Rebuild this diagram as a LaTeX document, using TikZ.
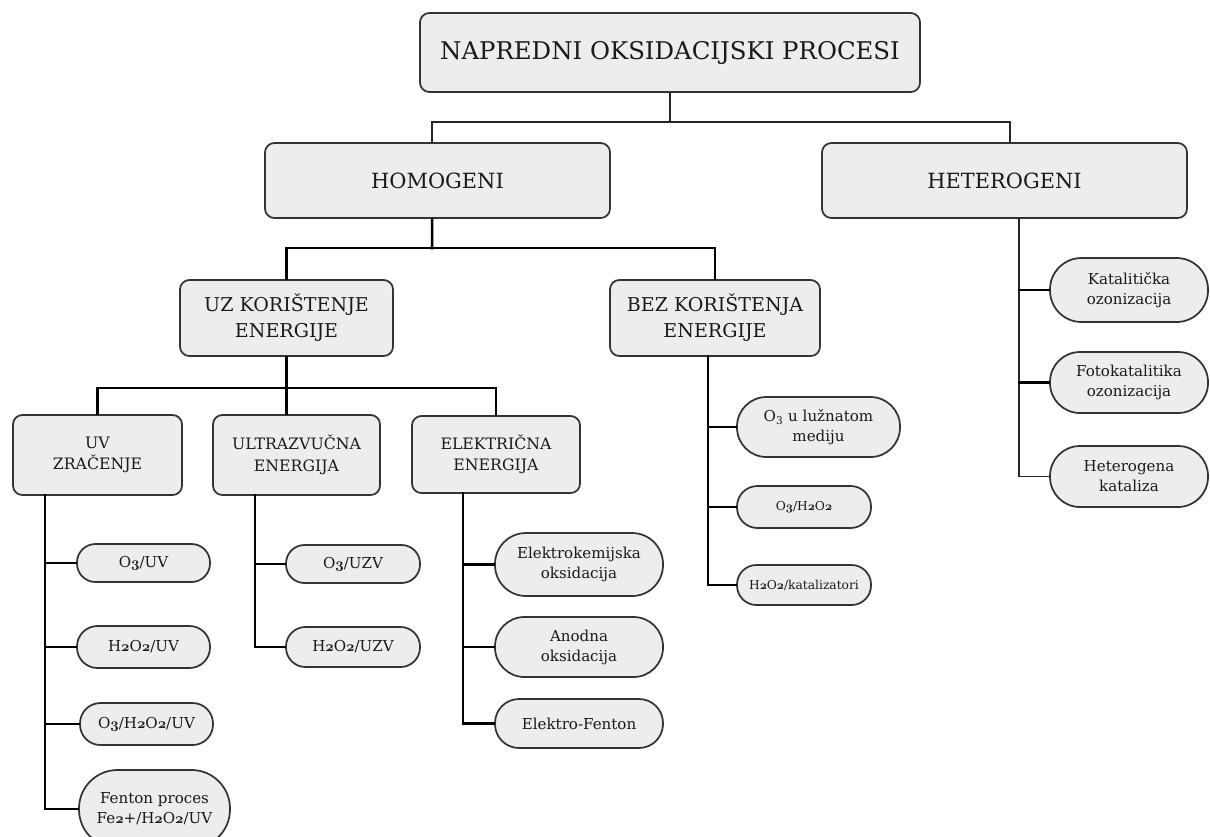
\documentclass[tikz,border=0pt]{standalone}
\usepackage{fontspec}
\setmainfont{DejaVu Serif}
\usetikzlibrary{calc}
\definecolor{boxfill}{HTML}{EBEDEF}
\definecolor{boxline}{HTML}{333333}
\definecolor{txt}{HTML}{1A1A1A}
\newcommand\os[1]{{\usefont{OML}{cmm}{b}{it}#1}}
\newcommand\bx[7]{%
  \pgfmathsetmacro\bxcx{(#2+#4)/2}%
  \pgfmathsetmacro\bxcy{(#3+#5)/2}%
  \pgfmathsetmacro\bxw{(#4-#2)*0.75}%
  \pgfmathsetmacro\bxh{(#5-#3)*0.75}%
  \pgfmathsetmacro\bxr{(#5-#3)*0.75/2-0.4}%
  \node[#6, minimum width=\bxw pt, minimum height=\bxh pt] (#1) at (\bxcx,\bxcy) {#7};}
\tikzset{
  base/.style={draw=boxline, line width=1.3pt, fill=boxfill, text=txt, align=center, inner sep=0pt},
  catbox/.style={base, rounded corners=7pt},
  pillbox/.style={base, rounded corners=\bxr pt},
  conn/.style={line width=1.9pt, draw=black, line cap=rect},
  thinconn/.style={line width=1.2pt, draw=black!85},
  ftitle/.style={font=\fontsize{18.3}{22}\selectfont},
  fbig/.style={font=\fontsize{15.7}{19}\selectfont},
  fmid/.style={font=\fontsize{14.3}{19.5}\selectfont},
  fsmall/.style={font=\fontsize{11.8}{16}\selectfont},
  fleaf/.style={font=\fontsize{11.3}{15}\selectfont},
  ftiny/.style={font=\fontsize{9.2}{11}\selectfont},
}
\begin{document}
\begin{tikzpicture}[x=0.75pt,y=-0.75pt]
\fill[white] (0,0) rectangle (1210,836);
\useasboundingbox (0,0) rectangle (1210,836);

% category boxes
\bx{top}{420}{13}{920}{92}{catbox,ftitle}{NAPREDNI OKSIDACIJSKI PROCESI}
\bx{homo}{265}{143}{610}{218}{catbox,fbig}{HOMOGENI}
\bx{hetero}{822}{143}{1187}{218}{catbox,fbig}{HETEROGENI}
\bx{uz}{180}{280}{393}{356}{catbox,fmid}{UZ KORIŠTENJE\\ENERGIJE}
\bx{bez}{610}{280}{820}{356}{catbox,fmid}{BEZ KORIŠTENJA\\ENERGIJE}
\bx{uv}{13}{415}{182}{495}{catbox,fsmall}{UV\\ZRAČENJE}
\bx{ultra}{213}{415}{380}{495}{catbox,fsmall}{ULTRAZVUČNA\\ENERGIJA}
\bx{el}{412}{416}{580}{493}{catbox,fsmall}{ELEKTRIČNA\\ENERGIJA}

% leaves
\bx{uvA}{77}{544}{210}{582}{pillbox,fleaf}{O\os{3}/UV}
\bx{uvB}{77}{626}{210}{668}{pillbox,fleaf}{H\os{2}O\os{2}/UV}
\bx{uvC}{80}{703}{213}{745}{pillbox,fleaf}{O\os{3}/H\os{2}O\os{2}/UV}
\bx{uvD}{79}{770}{230}{848}{pillbox,fleaf}{Fenton proces\\Fe\os{2}+/H\os{2}O\os{2}/UV}
\bx{ulA}{286}{545}{420}{583}{pillbox,fleaf}{O\os{3}/UZV}
\bx{ulB}{286}{627}{420}{667}{pillbox,fleaf}{H\os{2}O\os{2}/UZV}
\bx{elA}{495}{533}{663}{596}{pillbox,fleaf}{Elektrokemijska\\oksidacija}
\bx{elB}{495}{617}{663}{677}{pillbox,fleaf}{Anodna\\oksidacija}
\bx{elC}{495}{699}{663}{748}{pillbox,fleaf}{Elektro-Fenton}
\bx{bzA}{737}{397}{900}{457}{pillbox,fleaf}{O\textsubscript{3} u lužnatom\\mediju}
\bx{bzB}{737}{486}{871}{528}{pillbox,ftiny}{O\os{3}/H\os{2}O\os{2}}
\bx{bzC}{737}{565}{871}{605}{pillbox,ftiny}{H\os{2}O\os{2}/katalizatori}
\bx{htA}{1050}{258}{1208}{322}{pillbox,fleaf}{Katalitička\\ozonizacija}
\bx{htB}{1050}{352}{1208}{413}{pillbox,fleaf}{Fotokatalitika\\ozonizacija}
\bx{htC}{1050}{446}{1208}{507}{pillbox,fleaf}{Heterogena\\kataliza}

% junctions and spines
\coordinate (j1) at (670,122);
\coordinate (j2) at (432,248);
\coordinate (j3) at (286,388);
\coordinate (uvsp) at (45,495);
\coordinate (ulsp) at (255,495);
\coordinate (elsp) at (463,493);
\coordinate (bzsp) at (708,356);
\coordinate (htsp) at (1019,218);

% top level
\draw[thinconn] (top.south) -- (j1);
\draw[thinconn] ([xshift=-4pt]homo.north) |- ([xshift=4pt]hetero.north |- j1) -- ([xshift=4pt]hetero.north);

% homogeni
\draw[conn] ([xshift=-4pt]homo.south) -- (j2);
\draw[conn] (uz.north) |- (bez.north |- j2) -- (bez.north);

% uz koristenje
\draw[conn] (uz.south) -- (uz.south |- ultra.north);
\draw[conn] (uv.north) |- (el.north |- j3) -- (el.north);

% spines
\draw[conn] (uvsp) |- (uvD.west);
\draw[conn] (uvA.west) -- (uvA.west -| uvsp);
\draw[conn] (uvB.west) -- (uvB.west -| uvsp);
\draw[conn] (uvC.west) -- (uvC.west -| uvsp);

\draw[conn] (ulsp) |- (ulB.west);
\draw[conn] (ulA.west) -- (ulA.west -| ulsp);

\draw[conn] (elsp) |- (elC.west);
\draw[conn] (elA.west) -- (elA.west -| elsp);
\draw[conn] (elB.west) -- (elB.west -| elsp);

\draw[conn] (bzsp) |- (bzC.west);
\draw[conn] (bzA.west) -- (bzA.west -| bzsp);
\draw[conn] (bzB.west) -- (bzB.west -| bzsp);

\draw[thinconn] (htsp) |- (htC.west);
\draw[conn] (htA.west) -- (htA.west -| htsp);
\draw[conn] (htB.west) -- (htB.west -| htsp);
\end{tikzpicture}
\end{document}
